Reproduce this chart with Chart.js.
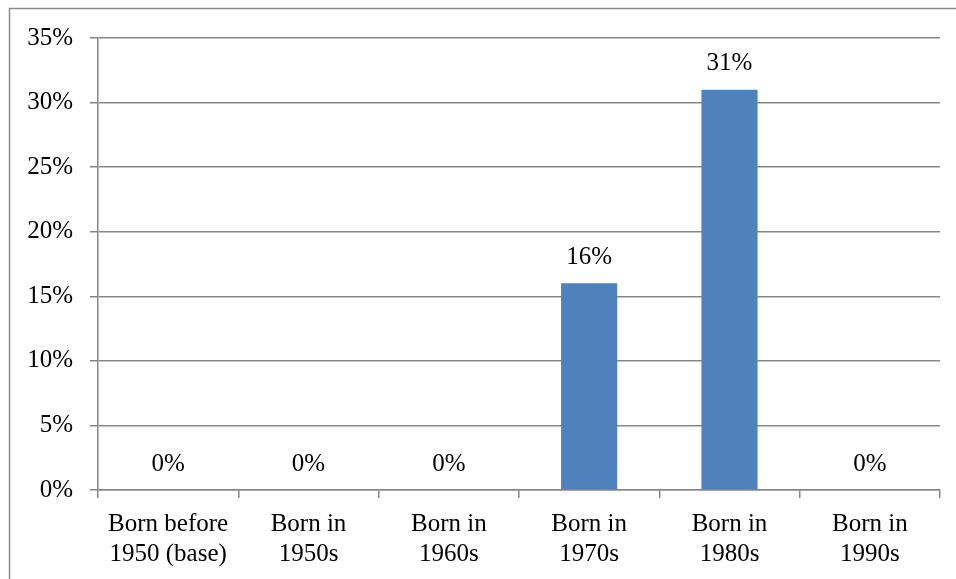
<!DOCTYPE html>
<html>
<head>
<meta charset="utf-8">
<script src="https://cdn.jsdelivr.net/npm/chart.js@4/dist/chart.umd.min.js"></script>
<style>
    html, body { margin: 0; padding: 0; background: #fff; }
    #wrap { position: relative; width: 956px; height: 579px; overflow: hidden; }
</style>
</head>
<body>
<div id="wrap"><canvas id="chart" width="956" height="579"></canvas></div>
<script>
// Chart data
const categories = [
    ['Born before', '1950 (base)'],
    ['Born in', '1950s'],
    ['Born in', '1960s'],
    ['Born in', '1970s'],
    ['Born in', '1980s'],
    ['Born in', '1990s']
];
const shares = [0, 0, 0, 16, 31, 0];
const yTicks = [0, 5, 10, 15, 20, 25, 30, 35];

const FONT = "'Liberation Serif', 'Times New Roman', serif";
const GRID = '#878787';

// Outer frame like the original chart box
const framePlugin = {
    id: 'frame',
    beforeDraw(chart) {
        const ctx = chart.ctx;
        ctx.save();
        ctx.fillStyle = '#fff';
        ctx.fillRect(0, 0, chart.width, chart.height);
        ctx.strokeStyle = '#8c8c8c';
        ctx.lineWidth = 1.5;
        ctx.strokeRect(9.5, 8.5, chart.width + 20, chart.height + 20);
        ctx.restore();
    }
};

// Value labels above each bar
const valueLabels = {
    id: 'valueLabels',
    afterDatasetsDraw(chart) {
        const ctx = chart.ctx;
        const meta = chart.getDatasetMeta(0);
        ctx.save();
        ctx.font = '25px ' + FONT;
        ctx.fillStyle = '#000';
        ctx.textAlign = 'center';
        ctx.textBaseline = 'middle';
        meta.data.forEach((bar, i) => {
            ctx.fillText(shares[i] + '%', bar.x, bar.y - 26);
        });
        ctx.restore();
    }
};

new Chart(document.getElementById('chart'), {
    type: 'bar',
    data: {
        labels: categories,
        datasets: [{
            data: shares,
            backgroundColor: '#4F81BD',
            borderWidth: 0,
            categoryPercentage: 1,
            barPercentage: 0.4
        }]
    },
    options: {
        responsive: false,
        animation: false,
        layout: {
            padding: { top: 38, right: 16, left: 0, bottom: 0 }
        },
        plugins: {
            legend: { display: false },
            tooltip: { enabled: false }
        },
        scales: {
            y: {
                min: 0,
                max: 35,
                afterFit(scale) { scale.width = 98; },
                afterBuildTicks(scale) {
                    scale.ticks = yTicks.map(v => ({ value: v }));
                },
                grid: {
                    color: GRID,
                    lineWidth: 1.5,
                    tickLength: 8,
                    drawTicks: true
                },
                border: { color: GRID, width: 1.5 },
                ticks: {
                    padding: 17,
                    color: '#000',
                    font: { family: FONT, size: 25 },
                    callback: v => v + '%'
                }
            },
            x: {
                afterFit(scale) { scale.height = 89; },
                grid: {
                    drawOnChartArea: false,
                    color: GRID,
                    lineWidth: 1.5,
                    tickLength: 8,
                    offset: true
                },
                border: { color: GRID, width: 1.5 },
                ticks: {
                    padding: 11,
                    color: '#000',
                    maxRotation: 0,
                    autoSkip: false,
                    font: { family: FONT, size: 25, lineHeight: 1.2 }
                }
            }
        }
    },
    plugins: [framePlugin, valueLabels]
});
</script>
</body>
</html>
